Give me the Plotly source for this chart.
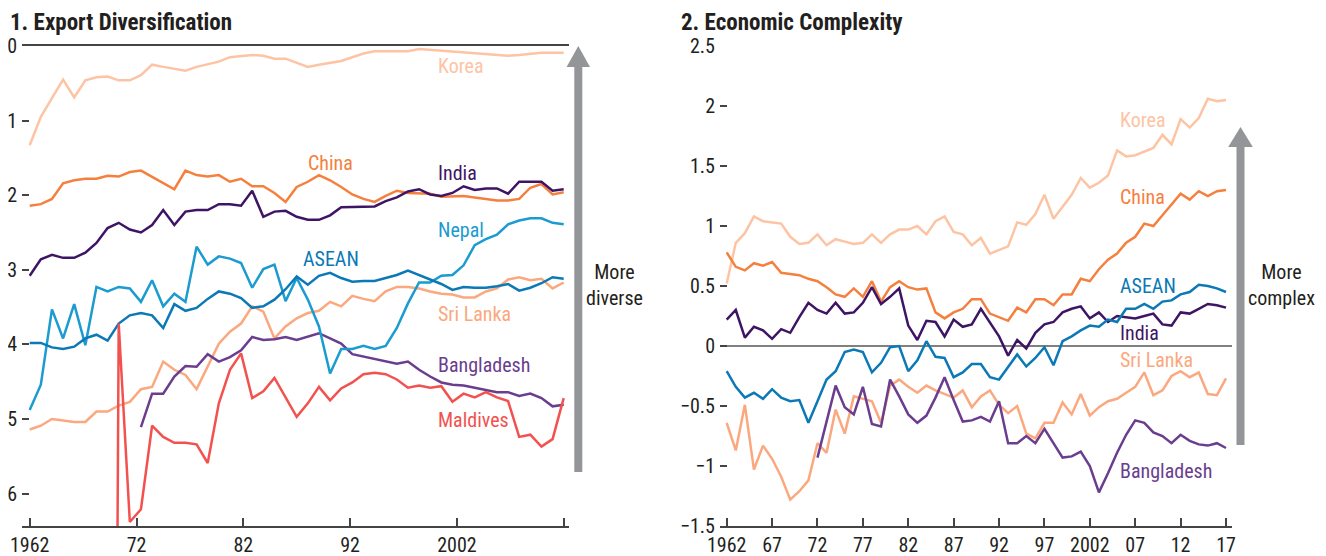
import plotly.graph_objects as go

# ---------------- data ----------------
years_div = list(range(1962, 2011))          # panel 1 data years
years_eci = list(range(1962, 2018))          # panel 2 data years

# Panel 1: export diversification (lower = more diverse)
korea_div = [1.33,0.95,0.70,0.45,0.69,0.46,0.42,0.41,0.46,0.46,0.39,0.25,0.28,0.30,0.33,0.28,0.24,0.21,0.15,0.13,
             0.12,0.13,0.17,0.17,0.23,0.28,0.25,0.23,0.20,0.15,0.10,0.07,0.07,0.07,0.07,0.04,0.05,0.06,0.07,0.08,
             0.10,0.11,0.12,0.13,0.12,0.10,0.09,0.09,0.09]
china_div = [2.14,2.12,2.05,1.84,1.80,1.78,1.78,1.74,1.75,1.69,1.67,1.75,1.84,1.92,1.67,1.73,1.75,1.73,1.82,1.78,
             1.88,1.88,1.97,2.09,1.89,1.82,1.73,1.80,1.89,1.99,2.05,2.09,2.01,1.94,1.97,1.97,1.98,2.02,2.01,2.01,
             2.03,2.05,2.07,2.07,2.05,1.90,1.85,1.99,1.96]
india_div = [3.08,2.86,2.80,2.84,2.84,2.77,2.64,2.44,2.37,2.46,2.50,2.40,2.20,2.40,2.22,2.20,2.20,2.12,2.12,2.14,
             1.94,2.29,2.22,2.21,2.29,2.33,2.33,2.27,2.16,2.16,2.16,2.15,2.08,2.03,1.95,1.92,1.99,2.01,1.97,1.88,
             1.93,1.91,1.91,1.98,1.82,1.82,1.82,1.94,1.92]
nepal_div = [4.88,4.54,3.53,3.92,3.46,4.01,3.23,3.29,3.23,3.25,3.43,3.14,3.49,3.32,3.43,2.69,2.93,2.82,2.85,2.91,
             3.24,2.99,2.93,3.42,3.11,3.40,3.76,4.39,4.06,4.06,4.02,4.06,4.02,3.78,3.45,3.17,3.17,3.08,3.07,2.94,
             2.67,2.59,2.53,2.39,2.34,2.31,2.31,2.37,2.39]
asean_div = [3.98,3.98,4.04,4.06,4.03,3.92,3.87,3.95,3.72,3.61,3.58,3.61,3.78,3.46,3.55,3.51,3.39,3.29,3.32,3.38,
             3.51,3.49,3.40,3.26,3.09,3.20,3.08,3.04,3.11,3.16,3.15,3.15,3.11,3.07,3.01,3.07,3.14,3.19,3.27,3.23,
             3.24,3.24,3.22,3.19,3.28,3.24,3.18,3.10,3.12]
srilanka_div = [5.14,5.09,5.00,5.02,5.04,5.04,4.90,4.90,4.82,4.77,4.60,4.57,4.23,4.34,4.41,4.60,4.30,3.99,3.83,3.72,
                3.49,3.56,3.92,3.76,3.65,3.58,3.55,3.43,3.49,3.35,3.39,3.42,3.29,3.23,3.23,3.25,3.29,3.32,3.33,3.37,
                3.37,3.29,3.25,3.13,3.10,3.14,3.12,3.25,3.17]
bangladesh_div = [None]*10 + [5.11,4.66,4.66,4.43,4.29,4.30,4.13,4.23,4.17,4.08,3.90,3.94,3.93,3.90,3.94,3.90,3.85,3.92,
                  3.99,4.13,4.16,4.19,4.23,4.26,4.23,4.34,4.43,4.51,4.54,4.55,4.58,4.61,4.64,4.64,4.69,4.66,4.72,4.83,4.81]
maldives_div = [None]*7 + [30.0,3.72,6.38,6.21,5.09,5.24,5.32,5.32,5.34,5.59,4.79,4.34,4.12,4.72,4.63,4.45,4.71,4.97,
                4.79,4.57,4.75,4.59,4.51,4.40,4.38,4.40,4.47,4.58,4.55,4.58,4.56,4.77,4.66,4.71,4.64,4.71,4.76,
                5.24,5.21,5.37,5.27,4.72]

# Panel 2: economic complexity index
korea_eci = [0.52,0.86,0.94,1.08,1.04,1.03,1.02,0.91,0.85,0.86,0.93,0.84,0.89,0.87,0.85,0.86,0.93,0.86,0.93,0.97,
             0.97,1.00,0.93,1.04,1.08,0.95,0.93,0.84,0.90,0.77,0.80,0.83,1.03,1.01,1.10,1.26,1.06,1.16,1.26,1.40,
             1.32,1.36,1.42,1.63,1.58,1.59,1.62,1.65,1.76,1.68,1.89,1.82,1.90,2.06,2.04,2.05]
china_eci = [0.78,0.66,0.63,0.69,0.67,0.70,0.61,0.60,0.59,0.56,0.54,0.49,0.43,0.41,0.48,0.41,0.54,0.37,0.49,0.54,
             0.49,0.47,0.48,0.28,0.23,0.28,0.31,0.39,0.39,0.27,0.24,0.21,0.32,0.28,0.39,0.39,0.34,0.43,0.43,0.56,
             0.54,0.64,0.72,0.77,0.86,0.91,1.02,1.00,1.09,1.18,1.27,1.22,1.29,1.25,1.29,1.30]
asean_eci = [-0.21,-0.34,-0.43,-0.39,-0.44,-0.36,-0.43,-0.46,-0.45,-0.64,-0.46,-0.28,-0.21,-0.05,-0.03,-0.05,-0.22,
             -0.14,-0.01,0.00,-0.21,-0.12,0.04,-0.09,-0.10,-0.26,-0.22,-0.15,-0.15,-0.26,-0.28,-0.17,-0.07,-0.17,
             -0.10,-0.01,-0.16,0.04,0.08,0.13,0.17,0.16,0.22,0.20,0.31,0.31,0.35,0.31,0.37,0.38,0.43,0.45,0.51,
             0.50,0.48,0.45]
india_eci = [0.22,0.30,0.07,0.16,0.13,0.06,0.14,0.11,0.24,0.36,0.30,0.27,0.36,0.27,0.28,0.36,0.49,0.35,0.41,0.48,
             0.17,0.05,0.21,0.20,0.08,0.22,0.16,0.18,0.31,0.19,0.08,-0.08,0.05,-0.02,0.11,0.18,0.20,0.28,0.31,0.33,
             0.23,0.28,0.20,0.25,0.24,0.23,0.25,0.27,0.18,0.17,0.28,0.27,0.31,0.35,0.34,0.32]
srilanka_eci = [-0.64,-0.87,-0.49,-1.03,-0.83,-0.94,-1.09,-1.28,-1.21,-1.12,-0.81,-0.89,-0.53,-0.73,-0.42,-0.44,
                -0.46,-0.64,-0.33,-0.28,-0.34,-0.39,-0.33,-0.37,-0.40,-0.43,-0.37,-0.51,-0.42,-0.37,-0.49,-0.56,
                -0.50,-0.73,-0.77,-0.64,-0.64,-0.47,-0.57,-0.40,-0.58,-0.51,-0.46,-0.44,-0.39,-0.34,-0.22,-0.41,
                -0.37,-0.25,-0.21,-0.26,-0.22,-0.40,-0.41,-0.27]
bangladesh_eci = [None]*10 + [-0.93,-0.63,-0.33,-0.51,-0.57,-0.34,-0.65,-0.67,-0.28,-0.42,-0.57,-0.64,-0.58,-0.43,
                  -0.26,-0.45,-0.63,-0.62,-0.59,-0.63,-0.46,-0.81,-0.81,-0.75,-0.81,-0.69,-0.81,-0.93,-0.92,-0.88,
                  -1.00,-1.22,-1.06,-0.89,-0.74,-0.62,-0.64,-0.72,-0.75,-0.81,-0.74,-0.79,-0.82,-0.83,-0.81,-0.85]

# tick labels
div_tick_years = [1962, 1972, 1982, 1992, 2002, 2012]
div_tick_text = ["1962", "72", "82", "92", "2002", ""]
eci_tick_years = list(range(1962, 2018, 5))
eci_tick_text = ["1962", "67", "72", "77", "82", "87", "92", "97", "2002", "07", "12", "17"]

# ---------------- style ----------------
C = {
    "Korea": "#fdc4a4", "China": "#f5803e", "India": "#3e1465", "Nepal": "#1b9bd0",
    "ASEAN": "#0b79b6", "Sri Lanka": "#fba87e", "Bangladesh": "#6a3d8e", "Maldives": "#f2524f",
}
FONT = "Roboto Condensed, Liberation Sans, sans-serif"
TXT = "#231f20"
OFF = 8                       # default page margin around the plot div
W, H = 1326 - OFF, 556 - OFF


def px(x):
    """screen pixel x -> paper fraction"""
    return (x - OFF) / W


def py(y):
    """screen pixel y -> paper fraction"""
    return 1 - (y - OFF) / H


fig = go.Figure()

# panel 1 traces (the printed axis labels of the source run 1962-2012 over the same width
# as the 1962-2010 data, so tick positions are rescaled onto the data axis)
div_series = [("Korea", korea_div), ("China", china_div), ("India", india_div), ("Sri Lanka", srilanka_div),
              ("Bangladesh", bangladesh_div), ("Nepal", nepal_div), ("ASEAN", asean_div), ("Maldives", maldives_div)]
for name, vals in div_series:
    fig.add_trace(go.Scatter(x=years_div, y=vals, mode="lines", name=name, xaxis="x", yaxis="y",
                             line=dict(color=C[name], width=2.5), connectgaps=False, showlegend=False))

eci_series = [("Korea", korea_eci), ("China", china_eci), ("Sri Lanka", srilanka_eci),
              ("Bangladesh", bangladesh_eci), ("India", india_eci), ("ASEAN", asean_eci)]
for name, vals in eci_series:
    fig.add_trace(go.Scatter(x=years_eci, y=vals, mode="lines", name=name, xaxis="x2", yaxis="y2",
                             line=dict(color=C[name], width=2.5), connectgaps=False, showlegend=False))

span_div = (div_tick_years[-1] - div_tick_years[0])
span_data = years_div[-1] - years_div[0]
div_tickvals = [years_div[0] + (y - div_tick_years[0]) * span_data / span_div for y in div_tick_years]

ppy1 = (563.7 - 29.7) / span_data          # pixels per data year, panel 1
ppy2 = (1226.0 - 726.7) / (years_eci[-1] - years_eci[0])

tickfont = dict(family=FONT, size=20, color=TXT)
ydom = [py(526), py(46)]
common = dict(showgrid=False, automargin=False)

fig.update_layout(
    template="none",
    width=W, height=H, margin=dict(l=0, r=0, t=0, b=0, pad=0),
    paper_bgcolor="white", plot_bgcolor="white", showlegend=False,
    xaxis=dict(domain=[px(22), px(569)], anchor="y",
               range=[1962 - (29.7 - 22) / ppy1, 1962 + (569 - 29.7) / ppy1],
               tickmode="array", tickvals=div_tickvals, ticktext=div_tick_text,
               ticks="inside", ticklen=8, tickwidth=1.5, tickcolor="#444",
               showline=True, linecolor="#444", linewidth=1.5, mirror=True,
               zeroline=False, tickfont=tickfont, ticklabelstandoff=0, **common),
    yaxis=dict(domain=ydom, anchor="x", range=[480 / 74.6, 0],
               tickmode="array", tickvals=[0, 1, 2, 3, 4, 5, 6],
               ticks="inside", ticklen=7, tickwidth=1.5, tickcolor="#444",
               showline=False, zeroline=False, tickfont=tickfont, ticklabelstandoff=4, **common),
    yaxis3=dict(domain=ydom, anchor="x", overlaying="y", side="right", range=[6, 0],
                tickmode="array", tickvals=[1, 2, 3, 4, 5], showticklabels=False,
                ticks="inside", ticklen=7, tickwidth=1.5, tickcolor="#444",
                showline=False, zeroline=False, **common),
    xaxis2=dict(domain=[px(720), px(1231.7)], anchor="y2",
                range=[1962 - (726.7 - 720) / ppy2, 1962 + (1231.7 - 726.7) / ppy2],
                tickmode="array", tickvals=eci_tick_years, ticktext=eci_tick_text,
                ticks="inside", ticklen=8, tickwidth=1.5, tickcolor="#444",
                showline=True, linecolor="#444", linewidth=1.5,
                zeroline=False, tickfont=tickfont, ticklabelstandoff=0, **common),
    yaxis2=dict(domain=ydom, anchor="x2", range=[-1.5, 2.5],
                tickmode="array", tickvals=[-1.5, -1, -0.5, 0, 0.5, 1, 1.5, 2, 2.5],
                ticks="inside", ticklen=7, tickwidth=1.5, tickcolor="#444",
                showline=False, zeroline=True, zerolinecolor="#808080", zerolinewidth=1.5,
                tickfont=tickfont, ticklabelstandoff=4, **common),
    yaxis4=dict(domain=ydom, anchor="x2", overlaying="y2", side="right", range=[-1.5, 2.5],
                tickmode="array", tickvals=[-1, -0.5, 0.5, 1, 1.5, 2, 2.5], showticklabels=False,
                ticks="inside", ticklen=7, tickwidth=1.5, tickcolor="#444",
                showline=False, zeroline=False, **common),
)

# series labels
div_labels = [("Korea", 1998.6, 0.27), ("China", 1986.9, 1.57), ("India", 1998.6, 1.70),
              ("Nepal", 1998.6, 2.46), ("ASEAN", 1986.45, 2.86), ("Sri Lanka", 1998.6, 3.59),
              ("Bangladesh", 1998.6, 4.28), ("Maldives", 1998.6, 5.02)]
eci_labels = [("Korea", 2005.25, 1.88), ("China", 2005.25, 1.24), ("ASEAN", 2005.25, 0.50),
              ("India", 2005.25, 0.11), ("Sri Lanka", 2005.25, -0.12), ("Bangladesh", 2005.25, -1.04)]
for name, x, y in div_labels:
    fig.add_annotation(x=x, y=y, xref="x", yref="y", text=name, showarrow=False, xanchor="left",
                       yanchor="middle", borderpad=0, font=dict(family=FONT, size=20, color=C[name]))
for name, x, y in eci_labels:
    fig.add_annotation(x=x, y=y, xref="x2", yref="y2", text=name, showarrow=False, xanchor="left",
                       yanchor="middle", borderpad=0, font=dict(family=FONT, size=20, color=C[name]))

# titles
fig.add_annotation(x=px(9), y=1, xref="paper", yref="paper", text="<b>1. Export Diversification</b>",
                   showarrow=False, xanchor="left", yanchor="top", borderpad=0,
                   font=dict(family=FONT, size=23, color=TXT))
fig.add_annotation(x=px(680), y=1, xref="paper", yref="paper", text="<b>2. Economic Complexity</b>",
                   showarrow=False, xanchor="left", yanchor="top", borderpad=0,
                   font=dict(family=FONT, size=23, color=TXT))

# side notes
fig.add_annotation(x=px(614), y=py(285), xref="paper", yref="paper", text="More<br>diverse",
                   showarrow=False, xanchor="center", yanchor="middle", font=dict(family=FONT, size=20, color=TXT))
fig.add_annotation(x=px(1281), y=py(285), xref="paper", yref="paper", text="More<br>complex",
                   showarrow=False, xanchor="center", yanchor="middle", font=dict(family=FONT, size=20, color=TXT))

# gray arrows
ARROW = "#939598"


def add_arrow(cx, top, head_base, bottom, half_head, half_shaft):
    fig.add_shape(type="rect", xref="paper", yref="paper",
                  x0=px(cx - half_shaft), x1=px(cx + half_shaft), y0=py(bottom), y1=py(head_base),
                  fillcolor=ARROW, line=dict(width=0))
    path = (f"M {px(cx - half_head)},{py(head_base)} L {px(cx + half_head)},{py(head_base)} "
            f"L {px(cx)},{py(top)} Z")
    fig.add_shape(type="path", xref="paper", yref="paper", path=path, fillcolor=ARROW, line=dict(width=0))


add_arrow(578.3, 46, 67, 472, 11.7, 4)
add_arrow(1240.5, 127, 147, 445, 12.3, 4)

fig.write_html("out.html")
